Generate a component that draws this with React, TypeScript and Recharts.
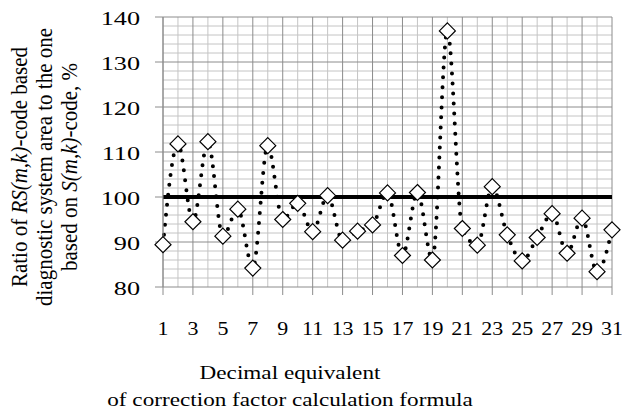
import React from "react";
import {
  LineChart,
  Line,
  XAxis,
  YAxis,
  CartesianGrid,
  ReferenceLine,
  Label,
} from "recharts";

// decimal equivalent of the correction factor formula
const codes = [
  1, 2, 3, 4, 5, 6, 7, 8, 9, 10, 11, 12, 13, 14, 15, 16,
  17, 18, 19, 20, 21, 22, 23, 24, 25, 26, 27, 28, 29, 30, 31,
];
// ratio of RS(m,k) area to S(m,k) area, %
const ratios = [
  89.4, 111.8, 94.5, 112.3, 91.3, 97.3, 84.2, 111.4, 95.0, 98.6, 92.3,
  100.3, 90.4, 92.4, 93.8, 100.9, 87.0, 101.0, 86.0, 136.9, 93.0, 89.3,
  102.3, 91.6, 85.8, 91.0, 96.3, 87.5, 95.3, 83.4, 92.7,
];
const xTicks = [1, 3, 5, 7, 9, 11, 13, 15, 17, 19, 21, 23, 25, 27, 29, 31];
const yTicks = [80, 90, 100, 110, 120, 130, 140];
const xMinorGrid = [2, 4, 6, 8, 10, 12, 14, 16, 18, 20, 22, 24, 26, 28, 30];
const yMinorGrid = [
  82, 84, 86, 88, 92, 94, 96, 98, 102, 104, 106, 108, 112, 114, 116, 118,
  122, 124, 126, 128, 132, 134, 136, 138,
];
const yMajorGrid = [90, 100, 110, 120, 130, 140];
const baseline = 100;

const data = codes.map((c, i) => ({ code: c, ratio: ratios[i] }));

const FONT = "'Liberation Serif', 'Times New Roman', serif";
const STRETCH = 1.22;

const Diamond = (props: any) => {
  const { cx, cy, index } = props;
  const r = 8;
  return (
    <polygon
      key={`d-${index}`}
      points={`${cx},${cy - r} ${cx + r},${cy} ${cx},${cy + r} ${cx - r},${cy}`}
      fill="#fff"
      stroke="#000"
      strokeWidth={1.2}
    />
  );
};

const XTick = (props: any) => {
  const { x, y, payload } = props;
  return (
    <g transform={`translate(${x},${y + 40}) scale(${STRETCH},1)`}>
      <text textAnchor="middle" fontFamily={FONT} fontSize={18} fill="#000">
        {payload.value}
      </text>
    </g>
  );
};

const YTick = (props: any) => {
  const { x, y, payload } = props;
  return (
    <g transform={`translate(${x},${y + 8}) scale(1.38,1)`}>
      <text textAnchor="end" fontFamily={FONT} fontSize={19} fill="#000">
        {payload.value}
      </text>
    </g>
  );
};

const XTitle = () => (
  <g fontFamily={FONT} fontSize={19} fill="#000">
    <g transform={`translate(290,379) scale(${STRETCH},1)`}>
      <text textAnchor="middle">Decimal equivalent</text>
    </g>
    <g transform={`translate(290,406) scale(${STRETCH},1)`}>
      <text textAnchor="middle">of correction factor calculation formula</text>
    </g>
  </g>
);

const YTitle = () => (
  <g fontFamily={FONT} fontSize={21} fill="#000">
    <g transform={`translate(27,167) scale(1.12,1) rotate(-90)`}>
      <text textAnchor="middle">
        Ratio of <tspan fontStyle="italic">RS(m,k)</tspan>-code based
      </text>
    </g>
    <g transform={`translate(52,167) scale(1.12,1) rotate(-90)`}>
      <text textAnchor="middle">diagnostic system area to the one</text>
    </g>
    <g transform={`translate(77,167) scale(1.12,1) rotate(-90)`}>
      <text textAnchor="middle">
        based on <tspan fontStyle="italic">S(m,k)</tspan>-code, %
      </text>
    </g>
  </g>
);

export default function App() {
  return (
    <div style={{ position: "absolute", left: 0, top: 0, background: "#fff" }}>
      <LineChart
        width={622}
        height={410}
        data={data}
        margin={{ top: 17, right: 10, bottom: 0, left: 0 }}
      >
        <CartesianGrid
          stroke="#c4c4c4"
          verticalValues={xMinorGrid}
          horizontalValues={yMinorGrid}
        />
        <CartesianGrid
          stroke="#8c8c8c"
          verticalValues={xTicks}
          horizontalValues={yMajorGrid}
        />
        <XAxis
          dataKey="code"
          type="number"
          domain={[1, 31]}
          ticks={xTicks}
          interval={0}
          height={123}
          tickSize={8}
          tickMargin={0}
          stroke="#8c8c8c"
          tick={<XTick />}
        >
          <Label content={() => <XTitle />} />
        </XAxis>
        <YAxis
          type="number"
          domain={[80, 140]}
          ticks={yTicks}
          interval={0}
          width={163}
          tickSize={8}
          tickMargin={15}
          stroke="#8c8c8c"
          tick={<YTick />}
        >
          <Label content={() => <YTitle />} />
        </YAxis>
        <ReferenceLine y={baseline} stroke="#000" strokeWidth={4} />
        <Line
          type="monotone"
          dataKey="ratio"
          stroke="#000"
          strokeWidth={4}
          strokeDasharray="0 10"
          strokeLinecap="round"
          dot={Diamond}
          activeDot={false}
          isAnimationActive={false}
        />
      </LineChart>
    </div>
  );
}
